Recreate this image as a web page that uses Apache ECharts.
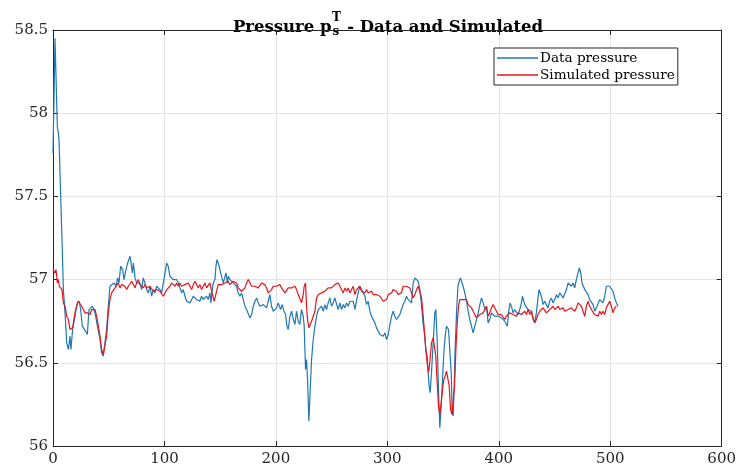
<!DOCTYPE html>
<html>
<head>
<meta charset="utf-8">
<script src="https://cdn.jsdelivr.net/npm/echarts@6/dist/echarts.min.js"></script>
<style>
  html, body { margin: 0; padding: 0; background: #ffffff; }
  #chart { width: 739px; height: 472px; }
</style>
</head>
<body>
<div id="chart"></div>
<script>
// Axis ranges: [min, max, step]
const xAxisRange = [0, 600, 100];
const yAxisRange = [56, 58.5, 0.5];

const seriesNames = ['Data pressure', 'Simulated pressure'];
const seriesColors = ['#1f77b4', '#e8141a'];

// Measured pressure [sample, value]
const dataPressure = [
  [0,57.76],[0.9,58.1],[1.8,58.45],[2.7,58.45],[3.9,57.92],[4.8,57.88],[5.4,57.84],[6.9,57.5],[7.8,57.3],
  [9.3,56.94],[10.8,56.8],[12.3,56.62],[13.8,56.58],[15.3,56.66],[16.1,56.58],[17.6,56.7],[19.7,56.78],
  [21.8,56.86],[23.6,56.87],[24.8,56.82],[26.3,56.72],[27.8,56.71],[29.3,56.69],[30.8,56.67],[32.3,56.82],
  [33.8,56.82],[35.3,56.84],[36.8,56.82],[38.3,56.78],[39.8,56.72],[42.2,56.64],[43.6,56.56],[45.1,56.54],
  [46.6,56.55],[48.1,56.7],[49.6,56.84],[51.1,56.96],[52.6,56.97],[54.7,56.98],[56.5,56.96],[58,57.01],
  [59.2,56.98],[60.7,57.08],[62.5,57.06],[63.7,57],[65.5,57.06],[67,57.1],[69.1,57.14],[70,57.1],
  [71.2,57.04],[72.1,57.1],[73.6,57.01],[75,56.98],[76.5,56.99],[78,56.98],[79.5,56.94],[81,57.01],
  [82.5,56.98],[84,56.94],[85.5,56.92],[87,56.96],[88.5,56.9],[90,56.94],[91.5,56.92],[93,56.96],
  [94.5,56.97],[96,56.94],[97.5,56.92],[99,56.92],[100.5,57.04],[102,57.1],[103.4,57.08],[104.9,57.02],
  [106.4,57.01],[107.9,57],[109.4,57.01],[110.9,57],[112.4,56.98],[113.9,56.98],[115.4,56.92],[116.9,56.94],
  [118.4,56.9],[119.9,56.87],[121.4,56.87],[122.9,56.86],[124.4,56.87],[125.9,56.9],
  [127.4,56.89],[128.8,56.88],[130.3,56.89],[131.8,56.87],[133.3,56.9],[134.8,56.88],[136.3,56.87],
  [137.8,56.9],[139.3,56.88],[140.8,56.92],[141.7,56.86],[142.9,56.94],[143.8,56.98],[145.3,57],
  [146.2,57.08],[147.1,57.12],[148.3,57.11],[149.2,57.08],[150.4,57.04],[151.3,57.02],[152.8,56.98],
  [154.3,56.99],[155.2,57.04],[156.4,56.98],[157.3,57.02],[158.7,57],[160.2,56.99],[161.7,56.98],
  [163.2,56.99],[164.7,56.96],[166.2,56.92],[167.7,56.9],[169.2,56.92],[170.7,56.92],[172.2,56.84],
  [173.7,56.82],[175.2,56.81],[176.7,56.77],[178.2,56.79],[179.7,56.84],[181.2,56.87],[182.7,56.89],
  [184.2,56.86],[185.7,56.84],[187.2,56.85],[188.6,56.85],[190.1,56.84],[191.6,56.83],[193.1,56.87],
  [194.6,56.91],[196.1,56.84],[197.6,56.81],[199.1,56.82],[200.6,56.83],[202.1,56.86],[203,56.87],
  [204.2,56.82],[205.7,56.85],[207.2,56.81],[208.7,56.79],[209.9,56.72],[211.1,56.7],[212.6,56.78],
  [214.1,56.81],[215.6,56.76],[217.1,56.73],[218.5,56.81],[220,56.75],[221.5,56.73],[223,56.82],
  [224.5,56.78],[225.4,56.72],[226.6,56.46],[227.5,56.52],[228.4,56.4],[229.6,56.15],[230.8,56.34],
  [232,56.52],[233.5,56.64],[235,56.72],[236.5,56.78],[238,56.82],[239.5,56.81],[241,56.84],[242.5,56.81],
  [244,56.85],[245.4,56.82],[246.9,56.86],[248.4,56.89],[249.9,56.84],[251.4,56.86],[252.9,56.89],
  [254.4,56.9],[255.9,56.82],[257.4,56.86],
  [258.9,56.82],[260.4,56.85],[261.9,56.83],[263.4,56.86],[264.9,56.84],[266.4,56.87],[267.9,56.86],
  [269.4,56.87],[270.9,56.82],[272.3,56.87],[273.8,56.92],[275.3,56.96],[276.8,56.94],[278.3,56.95],
  [279.8,56.9],[281.3,56.85],[282.8,56.87],[284.3,56.81],[285.8,56.78],[287.3,56.78],[288.8,56.74],
  [290.3,56.71],[291.8,56.7],[293.3,56.67],[294.8,56.68],[296.3,56.66],[297.8,56.68],[299.3,56.64],
  [300.8,56.67],[302.3,56.73],[303.8,56.78],[305.2,56.81],[306.7,56.78],[308.2,56.76],[309.7,56.75],
  [311.2,56.79],[312.7,56.82],[314.2,56.85],[315.7,56.87],[317.2,56.9],[318.7,56.88],[320.2,56.87],
  [321.7,56.86],[323.2,56.98],[324.7,57.01],[326.2,57.02],[327.7,56.99],[329.2,56.94],[330.7,56.84],
  [332.2,56.73],[333.6,56.66],[334.5,56.58],[335.7,56.54],[336.6,56.45],[337.5,56.36],[338.4,56.32],
  [339.6,56.44],[341.1,56.62],[342.6,56.8],[343.5,56.82],[344.7,56.64],[345.9,56.34],[347.1,56.11],
  [348.3,56.24],[349.5,56.4],[350.7,56.56],[351.9,56.66],[353.1,56.72],[354,56.73],[354.9,56.7],
  [356.1,56.71],[357.3,56.44],[358.2,56.2],[359.1,56.18],[360,56.36],[360.9,56.6],[362.1,56.8],
  [363.3,56.96],[364.5,56.99],[365.6,57.01],[366.8,57],[368,56.96],[369.5,56.92],[371,56.87],
  [372.5,56.81],[374,56.76],[375.5,56.72],[377,56.68],[378.5,56.67],[380,56.76],[381.5,56.8],
  [383,56.85],[384.5,56.89],[386,56.86],[387.5,56.82],[389,56.84],
  [390.4,56.74],[391.9,56.76],[393.4,56.8],[394.9,56.81],[396.4,56.78],[397.9,56.77],[399.4,56.78],
  [400.9,56.77],[402.4,56.77],[403.9,56.76],[405.3,56.75],[406.8,56.76],[407.7,56.72],[408.9,56.81],
  [410.1,56.86],[411.3,56.84],[412.8,56.8],[414.3,56.82],[415.8,56.81],[417.3,56.79],[418.8,56.82],
  [420.3,56.86],[421.2,56.9],[422.1,56.91],[423.3,56.85],[424.8,56.84],[426.3,56.82],[427.8,56.82],
  [429.3,56.81],[430.8,56.77],[432.3,56.74],[433.7,56.8],[435.2,56.89],[436.1,56.94],[437,56.95],
  [438.2,56.9],[439.7,56.85],[441.2,56.87],[442.7,56.86],[444.2,56.83],[445.7,56.87],[447.2,56.89],
  [448.7,56.86],[450.2,56.88],[451.7,56.91],[453.2,56.89],[454.7,56.92],[456.2,56.91],[457.7,56.89],
  [459.2,56.9],[460.7,56.94],[462.2,56.98],[463.6,56.97],[465.1,56.96],[466.6,56.98],[468.1,56.95],
  [469.6,57],[471.1,57.04],[472.3,57.07],[473.5,57.04],[474.7,56.98],[475.9,56.98],[477.1,56.94],
  [478.6,56.93],[480.1,56.91],[481.6,56.88],[483.1,56.89],[484.6,56.85],[486.1,56.81],[487.6,56.83],
  [489.1,56.82],[490.6,56.88],[492.1,56.89],[493.5,56.86],[495,56.9],[496.5,56.96],[498,56.97],
  [499.5,56.96],[501,56.97],[502.5,56.93],[504,56.89],[505.5,56.86],[507,56.84]
];

// Simulated pressure [sample, value]
const simPressure = [
  [0,57.06],[0.9,57.07],[1.8,57.04],[2.7,57.06],[3.9,56.98],[4.8,57],[5.7,56.96],[6.9,56.97],[8.1,56.94],
  [9.3,56.86],[10.8,56.84],[12.3,56.78],[13.8,56.76],[15.3,56.7],[16.7,56.69],[17.6,56.71],[18.8,56.76],
  [20,56.81],[21.2,56.84],[22.7,56.87],[24.2,56.86],[25.7,56.84],[27.2,56.82],[28.7,56.8],[29.6,56.79],
  [30.8,56.8],[31.7,56.81],[33.2,56.79],[34.7,56.82],[36.2,56.83],[37.7,56.82],[39.2,56.78],[40.7,56.72],
  [42.2,56.66],[43.6,56.58],[45.1,56.55],[46.6,56.54],[48.1,56.66],[49.6,56.8],[51.1,56.88],[52.6,56.92],
  [54.1,56.93],[55.6,56.95],[57.1,56.96],[58.6,56.98],[60.1,56.95],[61.6,56.97],[63.1,56.98],[64.6,56.96],
  [66.1,56.94],[67.6,56.96],[69.1,56.97],[70.6,56.99],[72.1,56.97],[73.6,56.95],[75,56.98],[76.5,57],
  [78,56.97],[79.5,56.96],[81,56.95],[82.5,56.97],[84,56.95],[85.5,56.94],[87,56.96],[88.5,56.95],
  [90,56.93],[91.5,56.92],[93,56.94],[94.5,56.95],[96,56.93],[97.5,56.92],[99,56.9],[100.5,56.92],
  [102,56.94],[103.4,56.95],[104.9,56.96],[106.4,56.98],[107.9,56.97],[109.4,56.96],[110.9,56.98],
  [112.4,56.96],[113.9,56.98],[115.4,56.96],[116.9,56.95],[118.4,56.97],[119.9,56.97],[121.4,56.98],
  [122.9,56.98],[124.4,56.94],[125.9,56.97],
  [127.4,56.99],[128.8,56.98],[130.3,56.95],[131.8,56.97],[133.3,56.94],[134.8,56.96],[136.3,56.98],
  [137.8,56.95],[139.3,56.94],[140.8,56.98],[142.3,56.93],[143.8,56.94],[144.7,56.87],[145.9,56.86],
  [147.1,56.94],[148.3,56.97],[149.8,56.98],[151.3,56.97],[152.8,56.96],[154.3,56.98],[155.8,56.97],
  [157.3,56.99],[158.7,56.97],[160.2,56.98],[161.7,56.99],[163.2,57],[164.7,56.98],[166.2,56.95],
  [167.7,56.96],[169.2,56.93],[170.7,56.94],[172.2,56.95],[173.7,56.98],[175.2,57],[176.7,56.99],
  [178.2,56.96],[179.7,56.95],[181.2,56.96],[182.7,56.97],[184.2,56.95],[185.7,56.96],[187.2,56.98],
  [188.6,56.99],[190.1,56.97],[191.6,56.95],[193.1,56.92],[194.6,56.91],[196.1,56.94],[197.6,56.96],
  [199.1,56.95],[200.6,56.96],[202.1,56.95],[203.6,56.97],[205.1,56.95],[206.6,56.94],[208.1,56.92],
  [209.6,56.91],[211.1,56.95],[212.6,56.96],[214.1,56.95],[215.6,56.94],[217.1,56.96],[218.5,56.94],
  [220,56.91],[221.5,56.9],[223,56.86],[224.5,56.91],[225.4,56.96],[226.6,56.98],[227.5,56.84],
  [228.4,56.76],[229.6,56.71],[230.8,56.73],[232,56.75],[233.5,56.78],[235,56.81],[236.5,56.89],
  [238,56.91],[239.5,56.92],[241,56.92],[242.5,56.93],[244,56.93],[245.4,56.94],[246.9,56.95],
  [248.4,56.94],[249.9,56.95],[251.4,56.96],[252.9,56.97],[254.4,56.96],[255.9,56.98],[257.4,56.97],
  [258.9,56.94],[260.4,56.92],
  [261.9,56.95],[263.4,56.93],[264.9,56.95],[266.4,56.92],[267.9,56.94],[269.4,56.96],[270.9,56.91],
  [272.3,56.94],[273.8,56.93],[275.3,56.96],[276.8,56.93],[278.3,56.94],[279.8,56.92],[281.3,56.94],
  [282.8,56.92],[284.3,56.91],[285.8,56.93],[287.3,56.91],[288.8,56.92],[290.3,56.91],[291.8,56.92],
  [293.3,56.9],[294.8,56.89],[296.3,56.87],[297.8,56.88],[299.3,56.88],[300.8,56.91],[302.3,56.91],
  [303.8,56.92],[305.2,56.94],[306.7,56.93],[308.2,56.93],[309.7,56.91],[311.2,56.92],[312.7,56.92],
  [314.2,56.96],[315.7,56.95],[317.2,56.96],[318.7,56.95],[320.2,56.95],[321.7,56.92],[323.2,56.89],
  [324.7,56.91],[326.2,56.94],[327.7,56.96],[329.2,56.95],[330.7,56.89],[332.2,56.78],[333.6,56.66],
  [334.5,56.58],[335.7,56.5],[336.9,56.44],[338.1,56.5],[339.6,56.62],[341.1,56.65],[342.6,56.64],
  [343.5,56.54],[344.7,56.38],[345.9,56.24],[347.1,56.19],[348.3,56.26],[349.5,56.34],[350.7,56.4],
  [351.9,56.42],[353.1,56.45],[354.3,56.44],[355.5,56.36],[356.7,56.22],[357.9,56.19],[359.1,56.2],
  [360.3,56.36],[361.5,56.58],[362.7,56.74],[363.9,56.84],[365,56.88],[366.5,56.89],[368,56.88],
  [369.5,56.89],[371,56.88],[372.5,56.85],[374,56.84],[375.5,56.83],[377,56.81],[378.5,56.79],
  [380,56.77],[381.5,56.76],[383,56.79],[384.5,56.78],[386,56.8],[387.5,56.81],[389,56.84],
  [390.4,56.78],[391.9,56.8],[393.4,56.83],[394.9,56.85],[396.4,56.84],[397.9,56.81],[399.4,56.79],
  [400.9,56.8],[402.4,56.79],[403.9,56.78],[405.3,56.76],[406.8,56.78],[408.3,56.78],[409.8,56.8],
  [411.3,56.81],[412.8,56.79],[414.3,56.8],[415.8,56.78],[417.3,56.8],[418.8,56.81],[420.3,56.79],
  [421.8,56.8],[423.3,56.81],[424.8,56.79],[426.3,56.82],[427.8,56.79],[429.3,56.81],[430.8,56.76],
  [432.3,56.74],[433.7,56.76],[435.2,56.79],[436.7,56.81],[438.2,56.8],[439.7,56.83],[441.2,56.82],
  [442.7,56.8],[444.2,56.79],[445.7,56.82],[447.2,56.81],[448.7,56.84],[450.2,56.82],[451.7,56.81],
  [453.2,56.84],[454.7,56.82],[456.2,56.81],[457.7,56.83],[459.2,56.81],[460.7,56.8],[462.2,56.82],
  [463.6,56.81],[465.1,56.83],[466.6,56.84],[468.1,56.81],[469.6,56.83],[471.1,56.86],[472.6,56.87],
  [474.1,56.84],[475.6,56.81],[477.1,56.78],[478.6,56.84],[480.1,56.87],[481.6,56.84],[483.1,56.82],
  [484.6,56.83],[486.1,56.79],[487.6,56.8],[489.1,56.78],[490.6,56.81],[492.1,56.79],[493.5,56.81],
  [495,56.79],[496.5,56.83],[498,56.85],[499.5,56.87],[501,56.84],[502.5,56.8],[504,56.83],[505.5,56.84]
];

const chart = echarts.init(document.getElementById('chart'), null, { renderer: 'canvas' });

const FONT_FAMILY = '"DejaVu Serif"';
const AXIS_COLOR = '#262626';
const GRID_COLOR = '#e3e3e3';

// Title with a stacked sub/superscript, laid out from measured text runs
const measureCtx = document.createElement('canvas').getContext('2d');
function textWidth(str, size) {
  measureCtx.font = 'bold ' + size + 'px ' + FONT_FAMILY;
  return measureCtx.measureText(str).width;
}
const TITLE_SIZE = 16.5;
const SCRIPT_SIZE = 12;
const titleHead = 'Pressure p';
const titleTail = ' - Data and Simulated';
const wHead = textWidth(titleHead, TITLE_SIZE);
const wScript = Math.max(textWidth('T', SCRIPT_SIZE), textWidth('s', SCRIPT_SIZE));
const wTail = textWidth(titleTail, TITLE_SIZE);
const gridLeft = 53, gridRight = 17;
const titleCenter = gridLeft + (739 - gridLeft - gridRight) / 2;
const titleX = titleCenter - (wHead + wScript + wTail) / 2;

function titleRun(text, size, x, y) {
  return {
    type: 'text', x: x, y: y, silent: true,
    style: {
      text: text, fontFamily: FONT_FAMILY, fontWeight: 'bold', fontSize: size,
      fill: '#000000', align: 'left', verticalAlign: 'alphabetic'
    }
  };
}

// Box axis on the opposite side: line and inward ticks only
function frameAxis(pos, range) {
  return {
    type: 'value', position: pos,
    min: range[0], max: range[1], interval: range[2],
    axisLine: { show: true, onZero: false, lineStyle: { color: AXIS_COLOR, width: 1 } },
    axisTick: { show: true, inside: true, length: 5, lineStyle: { color: AXIS_COLOR } },
    axisLabel: { show: false },
    splitLine: { show: false }
  };
}

const option = {
  animation: false,
  backgroundColor: '#ffffff',
  grid: { left: gridLeft, right: gridRight, top: 30, bottom: 26 },
  legend: {
    left: 494, top: 48,
    orient: 'vertical',
    icon: 'rect',
    itemGap: 1,
    itemWidth: 41,
    itemHeight: 1.4,
    padding: [2, 3, 2, 3],
    backgroundColor: '#ffffff',
    borderColor: '#262626',
    borderWidth: 1,
    borderRadius: 0,
    textStyle: { fontFamily: FONT_FAMILY, fontSize: 13.6, color: '#000', padding: [1, 0, 0, -3], lineHeight: 15 },
    data: seriesNames.map(function (name, i) {
      return { name: name, itemStyle: { color: seriesColors[i], borderWidth: 0 } };
    })
  },
  xAxis: [
    {
      type: 'value', position: 'bottom',
      min: xAxisRange[0], max: xAxisRange[1], interval: xAxisRange[2],
      axisLine: { show: true, onZero: false, lineStyle: { color: AXIS_COLOR, width: 1 } },
      axisTick: { show: true, inside: true, length: 5, lineStyle: { color: AXIS_COLOR } },
      axisLabel: { color: AXIS_COLOR, fontFamily: FONT_FAMILY, fontSize: 15, margin: 6 },
      splitLine: { show: true, lineStyle: { color: GRID_COLOR, width: 1 } }
    },
    frameAxis('top', xAxisRange)
  ],
  yAxis: [
    {
      type: 'value', position: 'left',
      min: yAxisRange[0], max: yAxisRange[1], interval: yAxisRange[2],
      axisLine: { show: true, onZero: false, lineStyle: { color: AXIS_COLOR, width: 1 } },
      axisTick: { show: true, inside: true, length: 5, lineStyle: { color: AXIS_COLOR } },
      axisLabel: { color: AXIS_COLOR, fontFamily: FONT_FAMILY, fontSize: 15, margin: 5 },
      splitLine: { show: true, lineStyle: { color: GRID_COLOR, width: 1 } }
    },
    frameAxis('right', yAxisRange)
  ],
  graphic: [
    titleRun(titleHead, TITLE_SIZE, titleX, 19),
    titleRun('T', SCRIPT_SIZE, titleX + wHead + 0.5, 12),
    titleRun('s', SCRIPT_SIZE, titleX + wHead + 1, 26),
    titleRun(titleTail, TITLE_SIZE, titleX + wHead + wScript + 1, 19)
  ],
  series: [
    {
      name: seriesNames[0], type: 'line', data: dataPressure,
      showSymbol: false, symbol: 'none',
      lineStyle: { color: seriesColors[0], width: 1.2 },
      itemStyle: { color: seriesColors[0] },
      z: 2
    },
    {
      name: seriesNames[1], type: 'line', data: simPressure,
      showSymbol: false, symbol: 'none',
      lineStyle: { color: seriesColors[1], width: 1.2 },
      itemStyle: { color: seriesColors[1] },
      z: 3
    }
  ]
};

chart.setOption(option);
</script>
</body>
</html>
